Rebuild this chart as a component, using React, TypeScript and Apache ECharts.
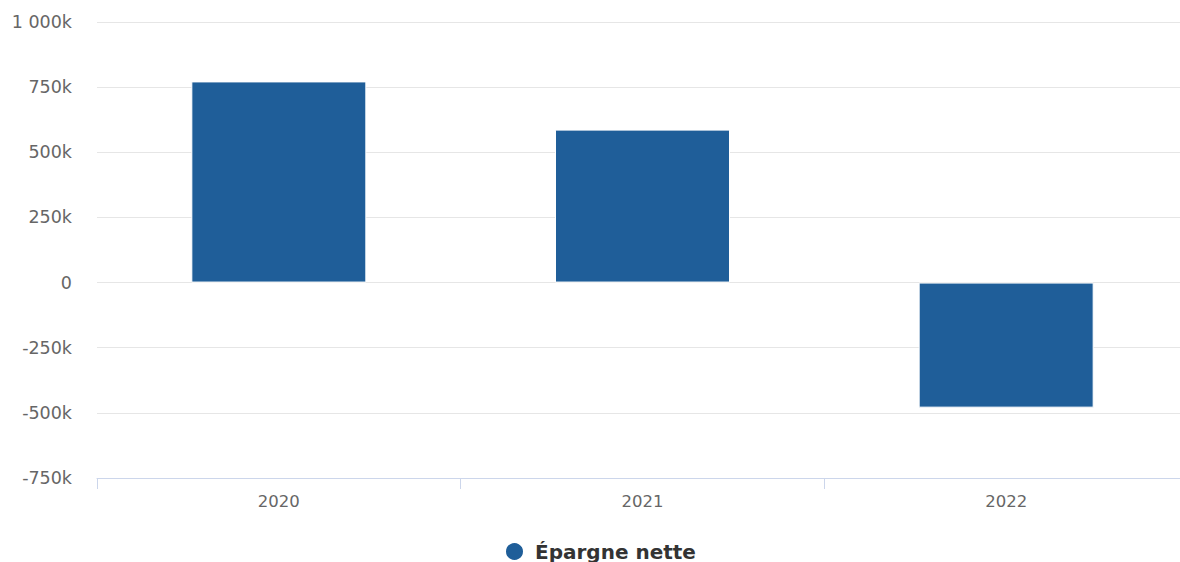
import React, { useEffect, useRef } from "react";
import * as echarts from "echarts";

const categories = ["2020", "2021", "2022"];
const epargneNette = [772000, 587000, -480000];
const seriesName = "Épargne nette";

function fmt(v: number): string {
  if (v === 0) return "0";
  const k = v / 1000;
  const sign = k < 0 ? "-" : "";
  const s = Math.abs(k).toString().replace(/\B(?=(\d{3})+(?!\d))/g, " ");
  return sign + s + "k";
}

export default function App() {
  const ref = useRef<HTMLDivElement>(null);
  useEffect(() => {
    if (!ref.current) return;
    const chart = echarts.init(ref.current, null, { renderer: "svg" });
    chart.setOption({
      animation: false,
      grid: { left: 97, top: 22, width: 1091, height: 456, containLabel: false },
      legend: {
        data: [{ name: seriesName, icon: "circle" }],
        left: 499,
        top: 536,
        itemWidth: 19,
        itemHeight: 19,
        itemGap: 10,
        textStyle: {
          fontFamily: "DejaVu Sans",
          fontWeight: "bold",
          fontSize: 20,
          color: "#333333",
          padding: [0, 0, 0, 6],
        },
      },
      xAxis: {
        type: "category",
        data: categories,
        axisLine: { onZero: false, lineStyle: { color: "#ccd6eb", width: 1 } },
        axisTick: { show: true, length: 11, lineStyle: { color: "#ccd6eb" } },
        axisLabel: {
          color: "#666666",
          fontFamily: "DejaVu Sans",
          fontSize: 16.5,
          margin: 15,
        },
        splitLine: { show: false },
      },
      yAxis: {
        type: "value",
        min: -750000,
        max: 1000000,
        interval: 250000,
        axisLine: { show: false },
        axisTick: { show: false },
        axisLabel: {
          color: "#666666",
          fontFamily: "DejaVu Sans",
          fontSize: 17.5,
          margin: 25,
          formatter: (v: number) => fmt(v),
        },
        splitLine: { lineStyle: { color: "#e6e6e6", width: 1 } },
      },
      series: [
        {
          name: seriesName,
          type: "bar",
          data: epargneNette,
          barWidth: 175,
          itemStyle: { color: "#1f5e99", borderColor: "#ffffff", borderWidth: 1 },
        },
      ],
    });
    return () => chart.dispose();
  }, []);
  return (
    <div
      ref={ref}
      style={{ position: "fixed", left: 0, top: 0, width: 1190, height: 562, background: "#ffffff" }}
    />
  );
}
